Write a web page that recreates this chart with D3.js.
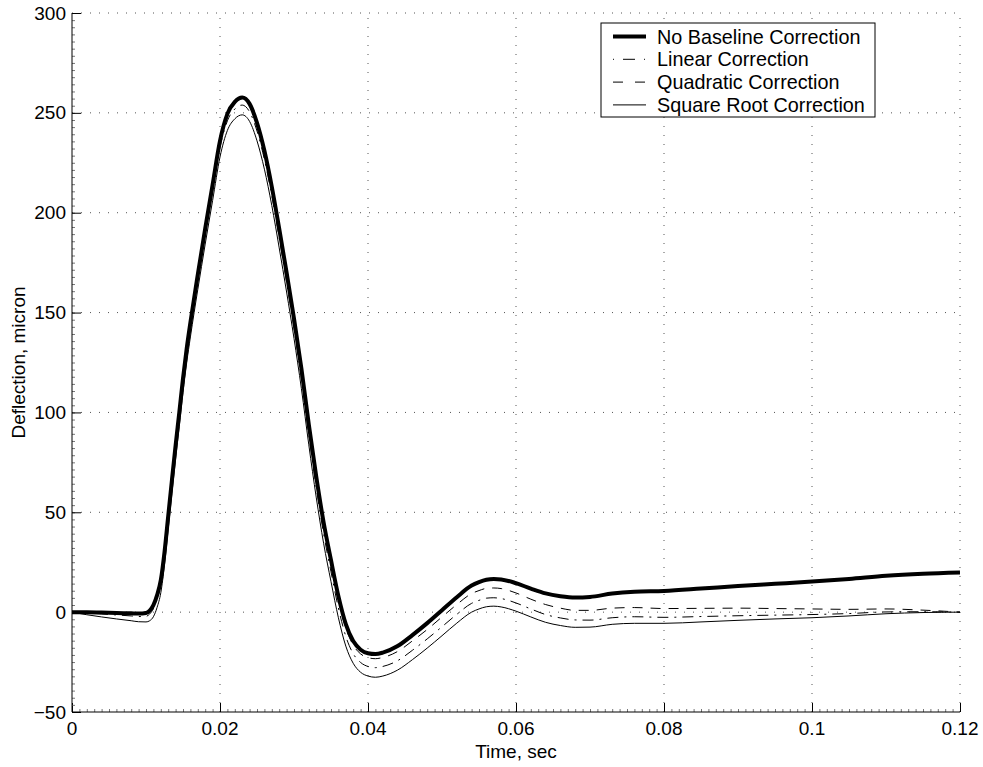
<!DOCTYPE html>
<html>
<head>
<meta charset="utf-8">
<title>Deflection vs time</title>
<script src="https://cdn.jsdelivr.net/npm/d3@7"></script>
<style>
  body { margin: 0; background: #fff; }
  svg text { font-family: "Liberation Sans", Arial, Helvetica, sans-serif; fill: #000; }
  .grid line { stroke: #555; stroke-width: 1; stroke-dasharray: 1,8; }
</style>
</head>
<body>
<svg id="chart" width="983" height="767"></svg>
<script>
// time samples, sec
var times = [0, 0.002, 0.004, 0.006, 0.008, 0.009, 0.010, 0.0105, 0.011, 0.0115,
  0.012, 0.0125, 0.013, 0.0135, 0.014, 0.0145, 0.015, 0.0155, 0.016, 0.017,
  0.018, 0.019, 0.020, 0.021, 0.022, 0.023, 0.024, 0.025, 0.026, 0.027,
  0.028, 0.029, 0.030, 0.031, 0.032, 0.033, 0.034, 0.035, 0.036, 0.037,
  0.038, 0.039, 0.040, 0.041, 0.042, 0.044, 0.046, 0.048, 0.050, 0.052,
  0.054, 0.055, 0.056, 0.057, 0.058, 0.060, 0.062, 0.064, 0.066, 0.068,
  0.070, 0.073, 0.076, 0.080, 0.085, 0.090, 0.095, 0.100, 0.105, 0.110,
  0.115, 0.120];

// deflection, micron
var noBaseline = [0, 0, -0.2, -0.4, -0.6, -0.7, -0.4, 0.8, 3.5, 8.5,
  16, 30, 48, 66, 83.5, 100, 117, 132, 145, 169,
  192, 214, 236, 249.5, 255.5, 257.7, 254.5, 245, 231, 213,
  192, 170, 147, 122, 94, 68, 45, 26, 8, -6,
  -14.5, -18.8, -20.6, -21, -20.3, -17, -11.5, -5.5, 1, 7.5,
  13.3, 15, 16.2, 16.6, 16.4, 14.5, 11.8, 9.4, 8, 7.3,
  7.6, 9.3, 10.2, 10.6, 11.8, 13.1, 14.2, 15.3, 16.6, 18.2,
  19.2, 19.8];

var linearCorr = [0, -0.3, -0.9, -1.4, -1.9, -2.2, -2.1, -0.9, 1.7, 6.6,
  14.0, 27.9, 45.9, 63.8, 81.2, 97.6, 114.5, 129.4, 142.4, 166.2,
  189.0, 210.9, 232.7, 246.0, 251.9, 253.9, 250.5, 240.9, 226.7, 208.5,
  187.4, 165.2, 142.1, 116.9, 88.7, 62.6, 39.4, 20.2, 2.1, -12.1,
  -20.8, -25.2, -27.2, -27.8, -27.2, -24.3, -19.1, -13.4, -7.3, -1.1,
  4.4, 5.9, 7.0, 7.2, 6.8, 4.6, 1.6, -1.2, -2.9, -3.9,
  -4.0, -2.8, -2.3, -2.6, -2.2, -1.8, -1.5, -1.2, -0.7, 0.1,
  0.2, 0];

var quadCorr = [0, 0, -0.2, -0.5, -0.7, -0.8, -0.5, 0.6, 3.3, 8.3,
  15.8, 29.8, 47.8, 65.8, 83.2, 99.7, 116.7, 131.7, 144.7, 168.6,
  191.6, 213.5, 235.5, 248.9, 254.8, 257.0, 253.7, 244.1, 230.1, 212.0,
  190.9, 168.8, 145.8, 120.7, 92.6, 66.5, 43.4, 24.3, 6.2, -7.9,
  -16.5, -20.9, -22.8, -23.3, -22.7, -19.7, -14.4, -8.7, -2.4, 3.8,
  9.3, 10.8, 11.9, 12.1, 11.8, 9.6, 6.5, 3.8, 2.0, 0.9,
  0.9, 2.0, 2.3, 1.8, 1.9, 2.0, 1.8, 1.6, 1.4, 1.6,
  1.0, 0];

var sqrtCorr = [0, -1.3, -2.4, -3.4, -4.3, -4.8, -4.9, -4.3, -2.3, 2.4,
  9.7, 23.6, 41.5, 59.4, 76.7, 93.1, 110.0, 124.9, 137.8, 161.6,
  184.3, 206.1, 227.9, 241.2, 247.0, 249.0, 245.7, 236.0, 221.8, 203.6,
  182.4, 160.3, 137.1, 111.9, 83.8, 57.6, 34.5, 15.3, -2.8, -17.0,
  -25.6, -30.1, -32.0, -32.6, -32.0, -29.0, -23.8, -18.0, -11.8, -5.5,
  0.0, 1.6, 2.7, 3.0, 2.6, 0.5, -2.4, -5.1, -6.7, -7.6,
  -7.5, -6.1, -5.6, -5.6, -4.9, -4.1, -3.4, -2.8, -1.9, -0.8,
  -0.2, 0];

var seriesNames = ["No Baseline Correction", "Linear Correction", "Quadratic Correction", "Square Root Correction"];
var xTicks = [0, 0.02, 0.04, 0.06, 0.08, 0.1, 0.12];
var yTicks = [-50, 0, 50, 100, 150, 200, 250, 300];

var svg = d3.select("#chart");
var padL = 72, padR = 960, padT = 13, padB = 712;

var x = d3.scaleLinear().domain([0, 0.12]).range([padL, padR]);
var y = d3.scaleLinear().domain([-50, 300]).range([padB, padT]);

// grid
var grid = svg.append("g").attr("class", "grid");
grid.selectAll(".gx").data(xTicks.slice(1)).enter().append("line")
  .attr("x1", function(d) { return x(d); }).attr("x2", function(d) { return x(d); })
  .attr("y1", padB).attr("y2", padT);
grid.selectAll(".gy").data(yTicks.slice(1)).enter().append("line")
  .attr("y1", function(d) { return y(d); }).attr("y2", function(d) { return y(d); })
  .attr("x1", padL).attr("x2", padR);

// axes, ticks pointing inward
var xAxis = d3.axisTop(x).tickValues(xTicks).tickSize(9).tickFormat("");
var yAxis = d3.axisRight(y).tickValues(yTicks).tickSize(9).tickFormat("");
var xMinor = d3.axisTop(x).tickValues(d3.range(0, 0.1201, 0.001)).tickSize(3).tickFormat("");
var yMinor = d3.axisRight(y).tickValues(d3.range(-50, 300.01, 50 / 14)).tickSize(3).tickFormat("");

[xMinor, xAxis].forEach(function(ax) {
  var g = svg.append("g").attr("transform", "translate(0," + padB + ")").call(ax);
  g.select(".domain").remove();
  g.selectAll("line").attr("stroke", ax === xMinor ? "#777" : "#000");
});
[yMinor, yAxis].forEach(function(ax) {
  var g = svg.append("g").attr("transform", "translate(" + padL + ",0)").call(ax);
  g.select(".domain").remove();
  g.selectAll("line").attr("stroke", ax === yMinor ? "#777" : "#000");
});
svg.append("line").attr("x1", padL).attr("x2", padR).attr("y1", padB).attr("y2", padB)
  .attr("stroke", "#000");
svg.append("line").attr("x1", padL).attr("x2", padL).attr("y1", padB).attr("y2", padT)
  .attr("stroke", "#000");

// tick labels
svg.selectAll(".xl").data(xTicks).enter().append("text")
  .attr("x", function(d) { return x(d); }).attr("y", padB + 23)
  .attr("text-anchor", "middle").style("font-size", "19px")
  .text(function(d) { return d === 0 ? "0" : String(d); });
svg.selectAll(".yl").data(yTicks).enter().append("text")
  .attr("x", padL - 6).attr("y", function(d) { return y(d) + 6.5; })
  .attr("text-anchor", "end").style("font-size", "19px")
  .text(function(d) { return d < 0 ? "\u2212" + Math.abs(d) : String(d); });

svg.append("text").attr("x", (padL + padR) / 2).attr("y", 758)
  .attr("text-anchor", "middle").style("font-size", "19px").text("Time, sec");
svg.append("text").attr("transform", "translate(25," + ((padT + padB) / 2) + ") rotate(-90)")
  .attr("text-anchor", "middle").style("font-size", "19px").text("Deflection, micron");

// curves
var styles = [
  { w: 4, dash: null },
  { w: 1, dash: "11,6,2,6" },
  { w: 1, dash: "10,8" },
  { w: 1, dash: null }
];
var allSeries = [noBaseline, linearCorr, quadCorr, sqrtCorr];
var line = d3.line()
  .x(function(d, i) { return x(times[i]); })
  .y(function(d) { return y(d); })
  .curve(d3.curveMonotoneX);

[3, 2, 1, 0].forEach(function(k) {
  svg.append("path").datum(allSeries[k])
    .attr("d", line)
    .attr("fill", "none")
    .attr("stroke", "#000")
    .attr("stroke-width", styles[k].w)
    .attr("stroke-dasharray", styles[k].dash)
    .attr("stroke-linejoin", "round");
});

// legend
var lg = svg.append("g").attr("transform", "translate(601,23)");
lg.append("rect").attr("width", 274).attr("height", 94)
  .attr("fill", "#fff").attr("stroke", "#000");
var rows = lg.selectAll(".row").data(seriesNames).enter().append("g")
  .attr("transform", function(d, i) { return "translate(0," + (13.5 + i * 22.8) + ")"; });
rows.append("line").attr("x1", 12).attr("x2", 45).attr("y1", 0).attr("y2", 0)
  .attr("stroke", "#000")
  .attr("stroke-width", function(d, i) { return styles[i].w; })
  .attr("stroke-dasharray", function(d, i) { return i === 1 ? "1,9,12,9,1" : (i === 2 ? "10,12" : null); });
rows.append("text").attr("x", 56).attr("y", 7)
  .style("font-size", "19.8px")
  .text(function(d) { return d; });
</script>
</body>
</html>
